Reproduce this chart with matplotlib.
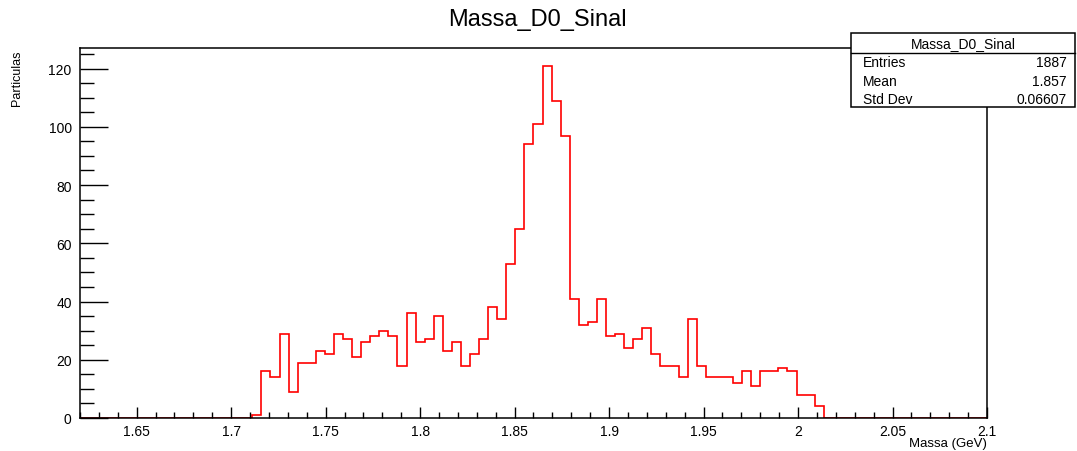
import numpy as np
import matplotlib
matplotlib.use("Agg")
import matplotlib.pyplot as plt
from matplotlib.patches import Rectangle
from matplotlib.ticker import MultipleLocator

plt.rcParams["font.family"] = ["Liberation Sans", "DejaVu Sans"]

# histogram: 100 bins between 1.62 and 2.1 GeV
x_min, x_max, n_bins = 1.62, 2.1, 100
counts = np.zeros(n_bins)
first_bin = 19
filled = [1, 16, 14, 29, 9, 19, 19, 23, 22, 29,
          27, 21, 26, 28, 30, 28, 18, 36, 26, 27,
          35, 23, 26, 18, 22, 27, 38, 34, 53, 65,
          94, 101, 121, 109, 97, 41, 32, 33, 41, 28,
          29, 24, 27, 31, 22, 18, 18, 14, 34, 18,
          14, 14, 14, 12, 16, 11, 16, 16, 17, 16,
          8, 8, 4]
counts[first_bin:first_bin + len(filled)] = filled

title = "Massa_D0_Sinal"
stats_labels = ["Entries", "Mean", "Std Dev"]
stats_values = ["1887", "1.857", "0.06607"]

W, H = 1077, 452
fig = plt.figure(figsize=(W / 100, H / 100), dpi=100)
ax = fig.add_axes([80 / W, 1 - 419 / H, 907 / W, 370 / H])

edges = np.linspace(x_min, x_max, n_bins + 1)
ax.stairs(counts, edges, color="red", linewidth=1.2, baseline=0)

ax.set_xlim(x_min, x_max)
ax.set_ylim(0, max(filled) * 1.05)

ax.xaxis.set_minor_locator(MultipleLocator(0.01))
ax.yaxis.set_major_locator(MultipleLocator(20))
ax.yaxis.set_minor_locator(MultipleLocator(5))
ax.set_xticks(np.arange(1.65, 2.101, 0.05))
ax.set_xticklabels(["1.65", "1.7", "1.75", "1.8", "1.85", "1.9", "1.95", "2", "2.05", "2.1"])

ax.tick_params(axis="both", which="both", direction="in", top=False, right=False,
               labelsize=10, width=1, color="black")
ax.tick_params(axis="x", which="major", length=8, pad=4)
ax.tick_params(axis="x", which="minor", length=4)
ax.tick_params(axis="y", which="major", length=20, pad=6)
ax.tick_params(axis="y", which="minor", length=10)
for s in ax.spines.values():
    s.set_linewidth(1.1)

fig.text(987 / W, 1 - 444.5 / H, "Massa (GeV)", ha="right", va="center", fontsize=9.5)
fig.text(17 / W, 1 - 50 / H, "Particulas", rotation=90, ha="center", va="top", fontsize=9)
fig.text(537 / W, 1 - 20 / H, title, ha="center", va="center", fontsize=17)

# stats box
bx0, bx1, by0, by1 = 851, 1075, 34, 108
fig.patches.append(Rectangle((bx0 / W, 1 - by1 / H), (bx1 - bx0) / W, (by1 - by0) / H,
                             transform=fig.transFigure, facecolor="white",
                             edgecolor="black", linewidth=1.1))
fig.add_artist(plt.Line2D([bx0 / W, bx1 / W], [1 - 54 / H, 1 - 54 / H],
                          transform=fig.transFigure, color="black", linewidth=1))
fig.text((bx0 + bx1) / 2 / W, 1 - 44 / H, title, ha="center", va="center", fontsize=10)
for i, (lab, val) in enumerate(zip(stats_labels, stats_values)):
    yy = 1 - (63 + i * 18.5) / H
    fig.text(863 / W, yy, lab, ha="left", va="center", fontsize=10)
    fig.text(1067 / W, yy, val, ha="right", va="center", fontsize=10)

fig.savefig("out.png", dpi=100)
